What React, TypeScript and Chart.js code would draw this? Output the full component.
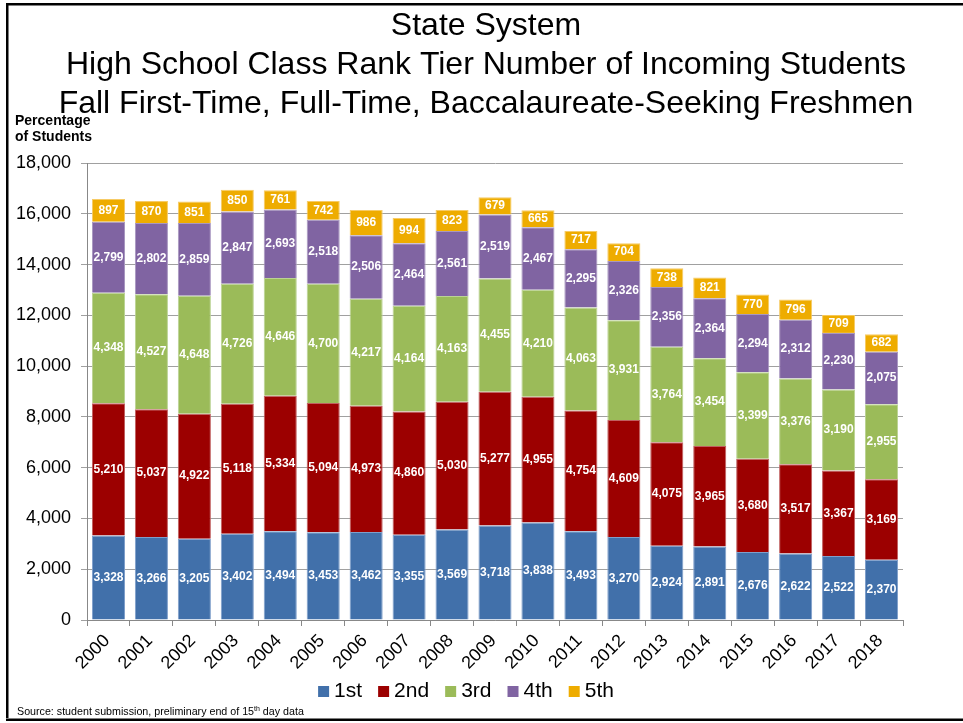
import React, { useEffect, useRef } from "react";
import { Chart, registerables } from "chart.js";

Chart.register(...registerables);

const years = ["2000","2001","2002","2003","2004","2005","2006","2007","2008","2009","2010","2011","2012","2013","2014","2015","2016","2017","2018"];
const tier1 = [3328,3266,3205,3402,3494,3453,3462,3355,3569,3718,3838,3493,3270,2924,2891,2676,2622,2522,2370];
const tier2 = [5210,5037,4922,5118,5334,5094,4973,4860,5030,5277,4955,4754,4609,4075,3965,3680,3517,3367,3169];
const tier3 = [4348,4527,4648,4726,4646,4700,4217,4164,4163,4455,4210,4063,3931,3764,3454,3399,3376,3190,2955];
const tier4 = [2799,2802,2859,2847,2693,2518,2506,2464,2561,2519,2467,2295,2326,2356,2364,2294,2312,2230,2075];
const tier5 = [897,870,851,850,761,742,986,994,823,679,665,717,704,738,821,770,796,709,682];
const seriesNames = ["1st","2nd","3rd","4th","5th"];
const seriesColors = ["#4170AA","#9C0000","#9BBB59","#8064A2","#EEAC00"];
const borderColors = ["#7F9FCB","#C06060","#BBD394","#A897C0","#F6CB66"];
const titleLines = [
  "State System",
  "High School Class Rank Tier Number of Incoming Students",
  "Fall First-Time, Full-Time, Baccalaureate-Seeking Freshmen",
];
const yAxisTitle = ["Percentage", "of Students"];
const sourceParts = ["Source: student submission, preliminary end of 15", "th", " day data"];

const FONT = "'Liberation Sans', Arial, sans-serif";

const extrasPlugin = {
  id: "extras",
  beforeDraw(chart: any) {
    const ctx = chart.ctx;
    ctx.save();
    ctx.fillStyle = "#ffffff";
    ctx.fillRect(0, 0, chart.width, chart.height);
    ctx.fillStyle = "#000000";
    ctx.fillRect(6, 3, chart.width - 6, 2.5);
    ctx.fillRect(6, 3, 2.5, 718 - 3);
    ctx.fillRect(6, 718.5, chart.width - 6, 2.5);
    ctx.restore();
  },
  afterDatasetsDraw(chart: any) {
    const ctx = chart.ctx;
    ctx.save();
    ctx.fillStyle = "#ffffff";
    ctx.font = `bold 12px ${FONT}`;
    ctx.textAlign = "center";
    ctx.textBaseline = "middle";
    chart.data.datasets.forEach((ds: any, i: number) => {
      const meta = chart.getDatasetMeta(i);
      meta.data.forEach((el: any, j: number) => {
        const v = ds.data[j];
        const cy = (el.y + el.base) / 2;
        ctx.fillText(v.toLocaleString("en-US"), el.x, cy);
      });
    });
    ctx.restore();
  },
  afterDraw(chart: any) {
    const ctx = chart.ctx;
    ctx.save();
    // title
    ctx.fillStyle = "#000000";
    ctx.font = `32px ${FONT}`;
    ctx.textAlign = "center";
    ctx.textBaseline = "middle";
    const titleY = [26, 65, 104];
    titleLines.forEach((t, i) => ctx.fillText(t, 486, titleY[i]));

    ctx.font = `bold 14px ${FONT}`;
    ctx.textAlign = "left";
    ctx.fillText(yAxisTitle[0], 15, 121);
    ctx.fillText(yAxisTitle[1], 15, 137);

    // rotated x labels
    const xs = chart.scales.x;
    ctx.font = `18px ${FONT}`;
    ctx.textAlign = "right";
    ctx.textBaseline = "middle";
    chart.data.labels.forEach((lab: string, i: number) => {
      const px = xs.getPixelForTick(i);
      ctx.save();
      ctx.translate(px - 1.5, chart.chartArea.bottom + 18);
      ctx.rotate(-Math.PI / 4);
      ctx.fillText(lab, 0, 0);
      ctx.restore();
    });

    // legend
    ctx.font = `21px ${FONT}`;
    ctx.textAlign = "left";
    const widths = seriesNames.map((n) => ctx.measureText(n).width);
    const boxW = 11, gapBox = 5, gapItem = 16;
    const total = widths.reduce((a, w) => a + boxW + gapBox + w, 0) + gapItem * (seriesNames.length - 1);
    let lx = 466 - total / 2;
    const ly = 691;
    seriesNames.forEach((n, i) => {
      ctx.fillStyle = seriesColors[i];
      ctx.fillRect(lx, ly - 5, boxW, boxW);
      lx += boxW + gapBox;
      ctx.fillStyle = "#000000";
      ctx.fillText(n, lx, ly);
      lx += widths[i] + gapItem;
    });

    // source
    ctx.font = `10.7px ${FONT}`;
    ctx.textBaseline = "alphabetic";
    let x = 17;
    const y = 715;
    ctx.fillText(sourceParts[0], x, y);
    x += ctx.measureText(sourceParts[0]).width;
    ctx.font = `7px ${FONT}`;
    ctx.fillText(sourceParts[1], x, y - 4);
    x += ctx.measureText(sourceParts[1]).width;
    ctx.font = `10.7px ${FONT}`;
    ctx.fillText(sourceParts[2], x, y);
    ctx.restore();
  },
};

export default function App() {
  const ref = useRef<HTMLCanvasElement | null>(null);
  useEffect(() => {
    if (!ref.current) return;
    const data = [tier1, tier2, tier3, tier4, tier5];
    const chart = new Chart(ref.current, {
      type: "bar",
      data: {
        labels: years,
        datasets: data.map((d, i) => ({
          label: seriesNames[i],
          data: d,
          backgroundColor: seriesColors[i],
          borderColor: borderColors[i],
          borderWidth: 1,
          barPercentage: 0.77,
          categoryPercentage: 1,
        })),
      },
      options: {
        animation: false,
        responsive: false,
        devicePixelRatio: 1,
        layout: { padding: { left: 0, right: 60, top: 163, bottom: 50 } },
        plugins: {
          title: { display: false },
          legend: { display: false },
          tooltip: { enabled: false },
        },
        scales: {
          x: {
            stacked: true,
            afterFit: (s: any) => { s.height = 53; },
            grid: { display: true, drawOnChartArea: false, color: "#888888", tickLength: 6, offset: true },
            border: { display: true, color: "#888888" },
            ticks: { display: false },
          },
          y: {
            stacked: true,
            min: 0,
            max: 18000,
            afterFit: (s: any) => { s.width = 87; },
            ticks: {
              stepSize: 2000,
              color: "#000000",
              font: { family: FONT, size: 18 },
              padding: 10,
              callback: (v: any) => Number(v).toLocaleString("en-US"),
            },
            grid: { color: "#A0A0A0", tickLength: 6 },
            border: { display: true, color: "#888888" },
          },
        },
      },
      plugins: [extrasPlugin],
    } as any);
    return () => chart.destroy();
  }, []);
  return (
    <div style={{ position: "absolute", left: 0, top: 0, width: 963, height: 723 }}>
      <canvas ref={ref} width={963} height={723} style={{ display: "block", width: 963, height: 723 }} />
    </div>
  );
}
